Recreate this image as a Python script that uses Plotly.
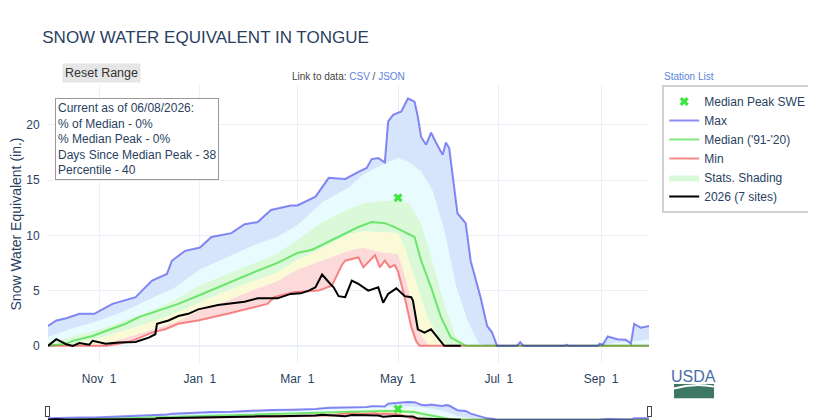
import plotly.graph_objects as go

FONT = "Liberation Sans, Arial, sans-serif"
START, END = "2025-10-01", "2026-09-30"

# daily stats (inches SWE)
max_dates = ["2025-10-01", "2025-10-06", "2025-10-12", "2025-10-20", "2025-10-29", "2025-11-09",
             "2025-11-23", "2025-12-03", "2025-12-12", "2025-12-15", "2025-12-23", "2026-01-01",
             "2026-01-08", "2026-01-20", "2026-01-28", "2026-02-05", "2026-02-13", "2026-02-25",
             "2026-03-01", "2026-03-12", "2026-03-20", "2026-03-27", "2026-03-30", "2026-04-07",
             "2026-04-12", "2026-04-15", "2026-04-19", "2026-04-23", "2026-04-25", "2026-04-28",
             "2026-05-03", "2026-05-07", "2026-05-11", "2026-05-13", "2026-05-15", "2026-05-18",
             "2026-05-21", "2026-05-24", "2026-05-28", "2026-05-30", "2026-06-01", "2026-06-06",
             "2026-06-11", "2026-06-14", "2026-06-20", "2026-06-24", "2026-06-27", "2026-06-30",
             "2026-07-12", "2026-07-14", "2026-07-16", "2026-08-10", "2026-08-11", "2026-08-12",
             "2026-08-30", "2026-08-31", "2026-09-02", "2026-09-05", "2026-09-11", "2026-09-16",
             "2026-09-19", "2026-09-21", "2026-09-25", "2026-09-30"]
max_vals = [1.8, 2.3, 2.5, 2.9, 2.9, 3.8,
            4.4, 5.9, 6.5, 7.7, 8.6, 8.9,
            9.85, 10.2, 11.0, 11.2, 12.3, 12.7,
            12.7, 13.5, 15.2, 15.15, 15.1, 15.75,
            16.1, 16.9, 17.0, 16.6, 20.3, 20.9,
            21.2, 22.4, 22.1, 20.75, 18.9, 18.2,
            19.3, 18.4, 17.3, 18.4, 17.9, 12.0,
            11.1, 7.7, 4.4, 1.8, 1.2, 0,
            0, 0.35, 0, 0, 0.1, 0,
            0, 0.2, 0.1, 0.85, 0.6, 0.55,
            0.2, 2.0, 1.65, 1.8]

p90_dates = ["2025-10-01", "2025-10-16", "2025-11-01", "2025-11-16", "2025-12-01", "2025-12-16",
             "2026-01-01", "2026-01-16", "2026-02-01", "2026-02-16", "2026-03-01", "2026-03-16",
             "2026-04-01", "2026-04-10", "2026-04-20", "2026-05-01", "2026-05-08", "2026-05-15",
             "2026-05-22", "2026-05-29", "2026-06-05", "2026-06-12", "2026-06-19", "2026-06-26",
             "2026-09-01", "2026-09-10", "2026-09-20", "2026-09-30"]
p90_vals = [0.8, 1.6, 2.3, 3.1, 4.2, 5.2,
            6.9, 7.9, 9.0, 9.8, 10.9, 13.0,
            14.3, 15.5, 16.3, 17.0, 16.6, 15.8,
            14.0, 10.5, 5.5, 2.3, 0.2, 0,
            0, 0.3, 0.4, 0.6]

p70_dates = ["2025-10-01", "2025-10-16", "2025-11-01", "2025-11-16", "2025-12-01", "2025-12-16",
             "2026-01-01", "2026-01-16", "2026-02-01", "2026-02-16", "2026-03-01", "2026-03-16",
             "2026-04-01", "2026-04-10", "2026-04-20", "2026-05-01", "2026-05-08", "2026-05-15",
             "2026-05-22", "2026-05-29", "2026-06-05", "2026-06-12", "2026-09-30"]
p70_vals = [0.3, 0.9, 1.5, 2.3, 3.1, 4.1,
            5.5, 6.4, 7.4, 8.3, 9.6, 11.2,
            12.4, 12.9, 13.1, 13.1, 12.9, 11.1,
            7.6, 3.8, 0.9, 0, 0]

median_dates = ["2025-10-01", "2025-10-06", "2025-10-12", "2025-10-16", "2025-10-28", "2025-11-05",
                "2025-11-17", "2025-11-25", "2025-12-07", "2025-12-19", "2026-01-01", "2026-01-12",
                "2026-01-24", "2026-02-05", "2026-02-17", "2026-03-01", "2026-03-10", "2026-03-30",
                "2026-04-07", "2026-04-15", "2026-04-23", "2026-04-29", "2026-05-05", "2026-05-09",
                "2026-05-11", "2026-05-15", "2026-05-21", "2026-05-27", "2026-06-02", "2026-06-11",
                "2026-09-30"]
median_vals = [0, 0.1, 0.2, 0.45, 0.9, 1.35,
               2.0, 2.6, 3.2, 3.8, 4.6, 5.3,
               6.1, 6.8, 7.5, 8.4, 8.7, 10.2,
               10.75, 11.2, 11.1, 10.75, 10.3, 10.0,
               9.85, 7.7, 5.3, 2.6, 0.75, 0,
               0]

p30_dates = ["2025-10-01", "2025-10-16", "2025-11-01", "2025-11-16", "2025-12-01", "2025-12-16",
             "2026-01-01", "2026-01-16", "2026-02-01", "2026-02-16", "2026-03-01", "2026-03-16",
             "2026-04-01", "2026-04-10", "2026-04-20", "2026-05-01", "2026-05-05", "2026-05-11",
             "2026-05-19", "2026-05-27", "2026-06-02", "2026-09-30"]
p30_vals = [0, 0.2, 0.7, 1.4, 2.1, 2.9,
            3.9, 4.9, 5.8, 6.6, 7.8, 8.8,
            10.1, 10.4, 10.3, 10.2, 8.9, 6.2,
            2.6, 0.45, 0, 0]

p10_dates = ["2025-10-01", "2025-11-01", "2025-11-16", "2025-12-01", "2025-12-16", "2026-01-01",
             "2026-01-16", "2026-02-01", "2026-02-16", "2026-03-01", "2026-03-16", "2026-04-01",
             "2026-04-10", "2026-04-20", "2026-05-01", "2026-05-05", "2026-05-10", "2026-05-15",
             "2026-05-20", "2026-09-30"]
p10_vals = [0, 0.1, 0.7, 1.4, 2.1, 3.2,
            4.0, 5.0, 5.8, 6.9, 7.7, 8.6,
            8.9, 8.5, 8.3, 6.5, 3.5, 1.0,
            0, 0]

min_dates = ["2025-10-01", "2025-11-05", "2025-11-13", "2025-11-21", "2025-12-03", "2025-12-11",
             "2025-12-19", "2025-12-31", "2026-01-18", "2026-02-11", "2026-02-15", "2026-02-27",
             "2026-03-14", "2026-03-22", "2026-03-28", "2026-03-30", "2026-04-07", "2026-04-10",
             "2026-04-17", "2026-04-20", "2026-04-23", "2026-04-26", "2026-04-29", "2026-05-01",
             "2026-05-05", "2026-05-09", "2026-05-12", "2026-05-14", "2026-09-30"]
min_vals = [0, 0, 0.2, 0.45, 1.2, 1.5,
            2.0, 2.3, 2.9, 3.8, 4.4, 4.85,
            5.0, 5.45, 7.3, 7.7, 8.0, 7.1,
            8.2, 7.1, 7.7, 7.1, 7.3, 6.7,
            4.4, 1.7, 0.4, 0, 0]

wy_dates = ["2025-10-01", "2025-10-06", "2025-10-12", "2025-10-16", "2025-10-20", "2025-10-26",
            "2025-10-28", "2025-11-05", "2025-11-13", "2025-11-23", "2025-12-01", "2025-12-05",
            "2025-12-06", "2025-12-13", "2025-12-19", "2025-12-25", "2025-12-31", "2026-01-12",
            "2026-01-28", "2026-02-05", "2026-02-17", "2026-02-25", "2026-03-03", "2026-03-08",
            "2026-03-12", "2026-03-16", "2026-03-21", "2026-03-23", "2026-03-26", "2026-03-30",
            "2026-04-03", "2026-04-07", "2026-04-13", "2026-04-19", "2026-04-22", "2026-04-25",
            "2026-04-30", "2026-05-05", "2026-05-09", "2026-05-10", "2026-05-13", "2026-05-17",
            "2026-05-21", "2026-05-25", "2026-05-29", "2026-06-08"]
wy_vals = [0, 0.6, 0.15, 0, 0.25, 0.1,
           0.45, 0.2, 0.3, 0.35, 0.75, 1.05,
           2.0, 2.3, 2.7, 2.9, 3.3, 3.7,
           4.0, 4.3, 4.3, 4.7, 4.75, 5.0,
           5.3, 6.45, 5.6, 5.3, 4.5, 4.4,
           5.9, 5.6, 5.0, 5.3, 3.9, 4.7,
           5.2, 4.5, 4.4, 4.1, 1.5, 1.2,
           1.5, 0.75, 0, 0]

peak_date = ["2026-05-01"]
peak_val = [13.4]

info_lines = ["Current as of 06/08/2026:", "% of Median - 0%", "% Median Peak - 0%",
              "Days Since Median Peak - 38", "Percentile - 40"]

fig = go.Figure()

# stats shading, stacked from the min upward
bands = [
    (min_dates, min_vals, None),
    (p10_dates, p10_vals, "#fcdada"),
    (p30_dates, p30_vals, "#fbfad6"),
    (p70_dates, p70_vals, "#d9f9d9"),
    (p90_dates, p90_vals, "#e8fbfe"),
    (max_dates, max_vals, "#d6e5fb"),
]
for i, (d, v, col) in enumerate(bands):
    fig.add_trace(go.Scatter(
        x=d, y=v, mode="lines", line=dict(width=0),
        fill="tonexty" if col else None, fillcolor=col,
        name="Stats. Shading", legendgroup="shade",
        showlegend=(i == 3), legendrank=5, hoverinfo="skip",
    ))

# semi-transparent lines, so they mix where they overlap at zero
fig.add_trace(go.Scatter(x=min_dates, y=min_vals, mode="lines", name="Min",
                         line=dict(color="rgba(240,0,0,0.45)", width=2), legendrank=4))
fig.add_trace(go.Scatter(x=median_dates, y=median_vals, mode="lines", name="Median ('91-'20)",
                         line=dict(color="rgba(0,210,0,0.5)", width=2), legendrank=3))
fig.add_trace(go.Scatter(x=max_dates, y=max_vals, mode="lines", name="Max",
                         line=dict(color="rgba(0,0,230,0.45)", width=2), legendrank=2))
fig.add_trace(go.Scatter(x=wy_dates, y=wy_vals, mode="lines", name="2026 (7 sites)",
                         line=dict(color="black", width=2), legendrank=6))
fig.add_trace(go.Scatter(x=peak_date, y=peak_val, mode="markers", name="Median Peak SWE",
                         marker=dict(symbol="x", size=8, color="#3ce63c"), legendrank=1))

fig.add_annotation(
    text="<br>".join(info_lines), xref="paper", yref="paper", x=0.012, y=0.953,
    xanchor="left", yanchor="top", align="left", showarrow=False,
    font=dict(size=12, color="#2a3f5f"), bgcolor="white",
    bordercolor="#999", borderwidth=1, borderpad=2,
)
fig.add_annotation(
    text='Link to data: <span style="color:#5b84d8">CSV</span> / '
         '<span style="color:#5b84d8">JSON</span>',
    xref="paper", yref="paper", x=0.5, y=1.032, xanchor="center", yanchor="middle",
    showarrow=False, font=dict(size=10, color="#444"),
)
fig.add_annotation(
    text="Station List", xref="paper", yref="paper", x=1.022, y=1.032,
    xanchor="left", yanchor="middle", showarrow=False, font=dict(size=10, color="#5b84d8"),
)
# reset range "button"
fig.add_annotation(
    text="Reset Range", xref="paper", yref="paper", x=0.023, y=1.079,
    xanchor="left", yanchor="top", showarrow=False, font=dict(size=12.5, color="#333"),
    bgcolor="#e6e6e6", borderpad=2,
)

# USDA mark
fig.add_annotation(
    text="USDA", xref="paper", yref="paper", x=1.074, y=-0.05,
    xanchor="center", yanchor="middle", showarrow=False,
    font=dict(size=16, color="#4a6cab", family="Liberation Sans Narrow, Liberation Sans"),
)
fig.add_shape(type="rect", xref="paper", yref="paper", x0=1.0416, x1=1.1082, y0=-0.1264, y1=-0.0758,
              fillcolor="#3e7862", line=dict(width=0))
fig.add_shape(type="path", xref="paper", yref="paper",
              path="M 1.0416 -0.092 Q 1.075 -0.07 1.1082 -0.085", line=dict(color="white", width=2))

fig.update_xaxes(
    type="date", range=[START, END], tick0="2025-11-01", dtick="M2", tickformat="%b %e",
    ticks="outside", ticklen=5, tickcolor="rgba(0,0,0,0)", automargin=False,
    rangeslider=dict(visible=True, thickness=0.06, bgcolor="white"),
)
fig.update_yaxes(title_text="Snow Water Equivalent (in.)", range=[-1.55, 23.6], dtick=5,
                 ticks="outside", ticklen=5, tickcolor="rgba(0,0,0,0)",
                 title_font=dict(size=14), automargin=False)

# page body adds an 8px offset, so margins are trimmed to match
fig.update_layout(
    template="plotly_white",
    width=816, height=420,
    font=dict(family=FONT, size=12, color="#2a3f5f"),
    title=dict(text="SNOW WATER EQUIVALENT IN TONGUE", x=0.042, xanchor="left",
               y=0.93, yanchor="middle", font=dict(size=17, color="#2a3f5f")),
    margin=dict(l=40, r=175, t=77, b=6),
    legend=dict(x=1.022, y=1, xanchor="left", yanchor="top", bordercolor="#d0d0d0",
                borderwidth=2, bgcolor="white", font=dict(size=12), traceorder="normal"),
    hovermode="x",
)

fig.write_html("out.html")
